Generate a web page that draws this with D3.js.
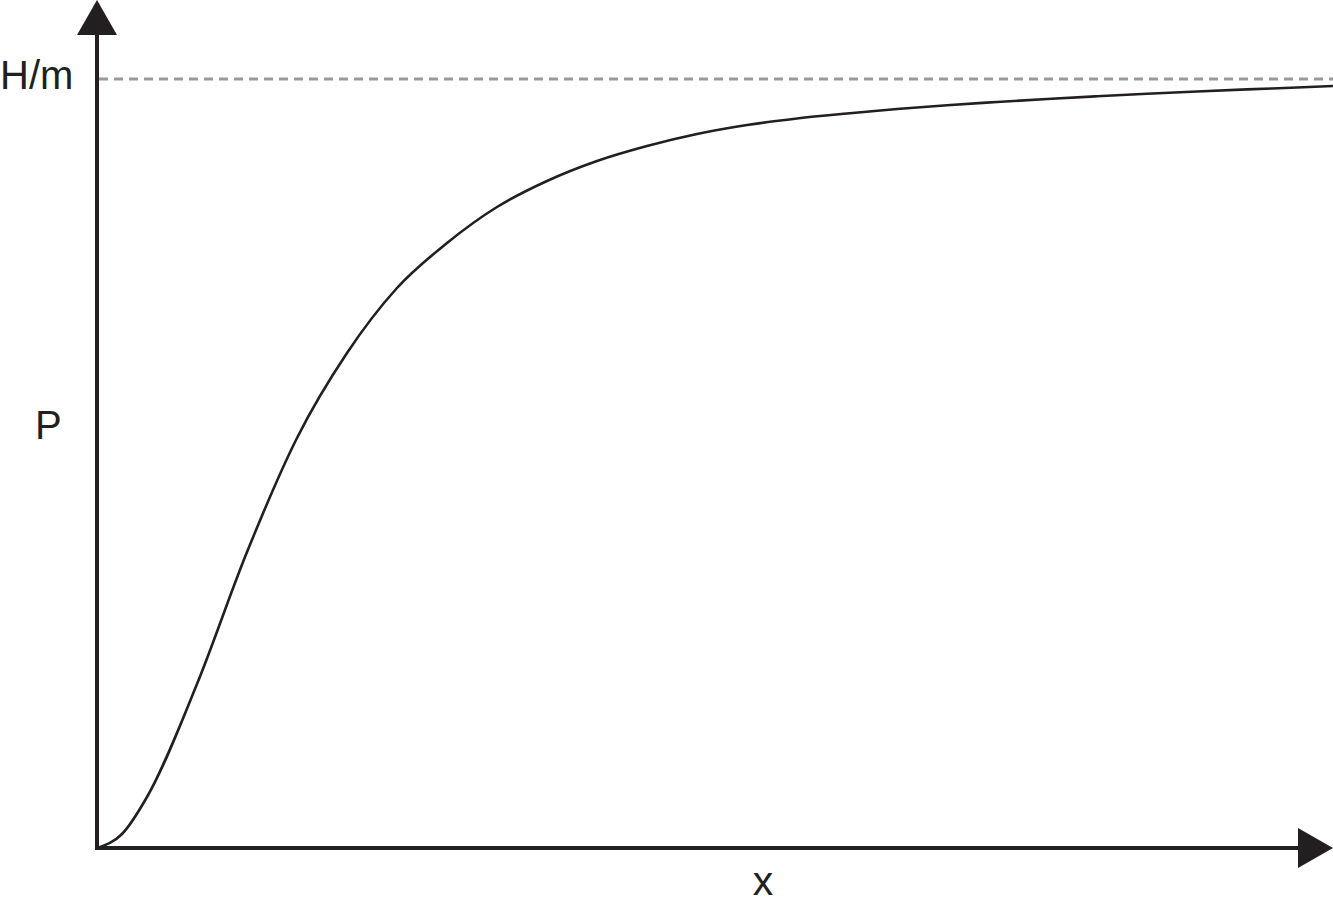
<!DOCTYPE html>
<html>
<head>
<meta charset="utf-8">
<script src="https://cdn.jsdelivr.net/npm/d3@7"></script>
<style>
  html, body { margin: 0; padding: 0; background: #fff; }
  svg { display: block; }
  text { font-family: "Liberation Sans", Arial, sans-serif; fill: #231f20; }
</style>
</head>
<body>
<script>
// curve (arbitrary units); P rises towards H/m
var xVals = [0, 25, 50, 100, 150, 200, 250, 300, 350, 400, 450, 500, 550, 600,
             650, 700, 750, 800, 850, 900, 950, 1000, 1050, 1100, 1150, 1200, 1236];
var pVals = [0, 14, 51, 164, 296, 410, 495, 560, 605, 641, 667, 687, 702, 714,
             723, 729.5, 734.5, 739, 742.8, 746, 749, 751.7, 754.2, 756.5, 758.6, 760.5, 762];
var limit = 769; // H/m
var labels = { y: "P", x: "x", limit: "H/m" };

var width = 1333, height = 905;
var ink = "#231f20";

var svg = d3.select("body").append("svg")
    .attr("width", width)
    .attr("height", height);

var x = d3.scaleLinear().domain([0, 1236]).range([97, 1333]);
var y = d3.scaleLinear().domain([0, limit]).range([848, 79]);

var data = xVals.map(function(d, i) { return { x: d, p: pVals[i] }; });

// dashed limit line
svg.append("line")
    .attr("x1", x(0) + 2)
    .attr("x2", width)
    .attr("y1", y(limit))
    .attr("y2", y(limit))
    .attr("stroke", "#999999")
    .attr("stroke-width", 3)
    .attr("stroke-dasharray", "9,6");

// the curve through the read points
var line = d3.line()
    .x(function(d) { return x(d.x); })
    .y(function(d) { return y(d.p); })
    .curve(d3.curveMonotoneX);

svg.append("path")
    .datum(data)
    .attr("d", line)
    .attr("fill", "none")
    .attr("stroke", ink)
    .attr("stroke-width", 2.6);

// axes with arrow heads
var x0 = x(0), y0 = y(0);

svg.append("line")
    .attr("x1", x0).attr("x2", x0)
    .attr("y1", y0 + 2).attr("y2", 34)
    .attr("stroke", ink).attr("stroke-width", 4);
svg.append("path")
    .attr("d", "M" + (x0 - 20) + ",35L" + x0 + ",0L" + (x0 + 20) + ",35Z")
    .attr("fill", ink);

svg.append("line")
    .attr("x1", x0 - 2).attr("x2", 1299)
    .attr("y1", y0).attr("y2", y0)
    .attr("stroke", ink).attr("stroke-width", 4);
svg.append("path")
    .attr("d", "M1298," + (y0 - 20) + "L1333," + y0 + "L1298," + (y0 + 20) + "Z")
    .attr("fill", ink);

// labels
svg.append("text")
    .attr("x", 0).attr("y", 89)
    .style("font-size", "40px")
    .text(labels.limit);

svg.append("text")
    .attr("x", 35).attr("y", 439)
    .style("font-size", "40px")
    .text(labels.y);

svg.append("text")
    .attr("x", 763).attr("y", 895)
    .attr("text-anchor", "middle")
    .style("font-size", "41px")
    .text(labels.x);
</script>
</body>
</html>
